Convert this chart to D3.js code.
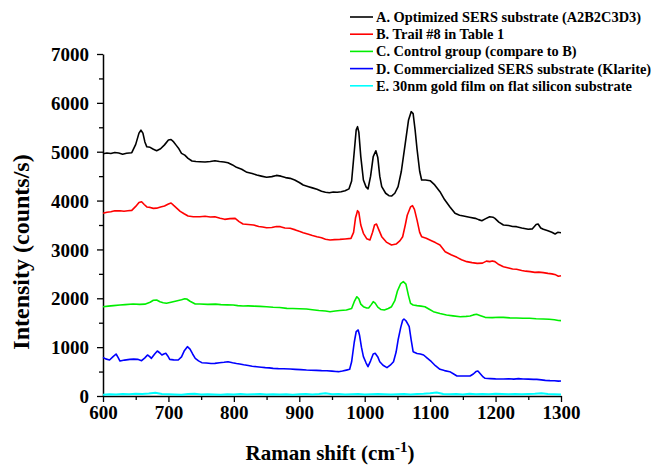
<!DOCTYPE html>
<html><head><meta charset="utf-8">
<script src="https://cdn.jsdelivr.net/npm/d3@7"></script>
<style>
html,body{margin:0;padding:0;background:#fff;}
svg{display:block;}
svg text{font-family:"Liberation Serif","Times New Roman",serif !important;font-weight:bold;fill:#000;}
</style></head>
<body><svg id="c" width="654" height="466"></svg>
<script>
const legendLabels = [
  "A. Optimized SERS substrate (A2B2C3D3)",
  "B. Trail #8 in Table 1",
  "C. Control group (compare to B)",
  "D. Commercialized SERS substrate (Klarite)",
  "E. 30nm gold film on flat silicon substrate"
];
const seriesColors = ["#000000", "#ff0000", "#00ee00", "#0000ff", "#00ffff"];
const xTicks = [600, 700, 800, 900, 1000, 1100, 1200, 1300];
const yTicks = [0, 1000, 2000, 3000, 4000, 5000, 6000, 7000];

const seriesA = [[600,4960],[606,4975],[612,4965],[618,4985],[624,4975],[630,4950],[636,4970],[644,4980],[650,5150],[655,5380],[658,5440],[661,5380],[664,5200],[667,5100],[672,5090],[677,5050],[682,5020],[688,5060],[694,5140],[700,5240],[704,5250],[708,5200],[712,5130],[716,5060],[720,4967],[725,4930],[730,4865],[736,4810],[742,4800],[748,4795],[756,4790],[764,4800],[771,4815],[778,4800],[785,4790],[791,4775],[798,4730],[804,4680],[812,4640],[820,4578],[828,4555],[835,4523],[842,4500],[850,4476],[858,4490],[865,4515],[872,4500],[879,4470],[886,4455],[893,4420],[900,4370],[906,4318],[913,4290],[920,4260],[927,4230],[934,4190],[940,4170],[946,4160],[952,4175],[958,4170],[964,4180],[970,4200],[976,4240],[980,4400],[984,5000],[987,5450],[989,5512],[991,5400],[994,4900],[998,4421],[1002,4280],[1005,4237],[1009,4500],[1013,4900],[1017,5020],[1020,4880],[1023,4500],[1026,4285],[1032,4150],[1037,4100],[1041,4093],[1046,4150],[1051,4285],[1056,4600],[1062,5170],[1067,5650],[1071,5820],[1074,5780],[1077,5450],[1080,5050],[1084,4600],[1087,4421],[1093,4420],[1100,4407],[1107,4320],[1115,4182],[1122,4020],[1130,3875],[1138,3739],[1145,3700],[1151,3684],[1160,3660],[1169,3636],[1174,3610],[1179,3588],[1185,3630],[1191,3670],[1196,3660],[1199,3636],[1205,3560],[1212,3500],[1220,3490],[1226,3470],[1232,3466],[1240,3440],[1250,3412],[1256,3420],[1262,3510],[1265,3520],[1269,3440],[1273,3412],[1280,3380],[1286,3350],[1291,3316],[1295,3350],[1300,3343]];

const seriesB = [[600,3739],[606,3760],[612,3770],[618,3790],[626,3793],[632,3780],[638,3790],[644,3800],[650,3880],[655,3960],[659,3977],[663,3920],[667,3870],[672,3860],[677,3840],[682,3845],[688,3870],[694,3890],[700,3930],[704,3950],[708,3900],[713,3841],[718,3780],[724,3730],[730,3684],[738,3670],[748,3670],[756,3680],[764,3665],[771,3670],[779,3640],[786,3616],[794,3630],[802,3636],[808,3570],[814,3520],[822,3510],[830,3500],[838,3470],[844,3460],[850,3445],[858,3450],[865,3470],[871,3466],[878,3440],[886,3432],[894,3400],[900,3370],[906,3343],[914,3310],[920,3285],[927,3261],[934,3240],[940,3210],[947,3193],[954,3200],[962,3206],[970,3215],[979,3227],[983,3350],[986,3650],[989,3793],[991,3760],[994,3500],[998,3330],[1003,3220],[1008,3193],[1012,3350],[1015,3500],[1018,3520],[1021,3420],[1026,3261],[1033,3150],[1041,3090],[1048,3110],[1054,3180],[1058,3260],[1062,3500],[1065,3700],[1070,3870],[1073,3895],[1076,3820],[1080,3600],[1084,3350],[1087,3261],[1094,3230],[1102,3179],[1108,3140],[1115,3090],[1123,2954],[1132,2890],[1141,2838],[1148,2790],[1156,2750],[1164,2730],[1172,2715],[1180,2720],[1186,2760],[1191,2750],[1195,2765],[1199,2750],[1205,2690],[1212,2647],[1220,2620],[1226,2600],[1232,2593],[1240,2570],[1246,2555],[1253,2545],[1260,2530],[1266,2535],[1273,2525],[1280,2510],[1286,2500],[1292,2480],[1296,2450],[1300,2460]];

const seriesC = [[600,1828],[608,1840],[616,1850],[626,1862],[634,1870],[646,1883],[656,1875],[664,1880],[672,1920],[677,1960],[682,1965],[687,1930],[692,1910],[697,1897],[704,1920],[712,1945],[720,1970],[725,1990],[728,1985],[733,1940],[741,1883],[748,1883],[760,1875],[772,1880],[780,1870],[790,1865],[799,1862],[806,1850],[814,1842],[822,1845],[830,1840],[840,1835],[850,1828],[860,1815],[870,1810],[881,1794],[890,1790],[900,1785],[911,1780],[920,1765],[930,1750],[940,1740],[947,1726],[955,1740],[962,1750],[972,1760],[980,1790],[984,1930],[988,2032],[991,1990],[994,1880],[998,1828],[1003,1800],[1006,1800],[1010,1870],[1013,1930],[1016,1900],[1020,1820],[1025,1770],[1030,1760],[1036,1790],[1041,1828],[1046,1950],[1050,2150],[1055,2300],[1059,2340],[1063,2290],[1067,2050],[1070,1897],[1074,1862],[1080,1850],[1086,1840],[1092,1828],[1098,1780],[1105,1726],[1115,1690],[1125,1658],[1135,1640],[1146,1623],[1155,1630],[1161,1637],[1166,1660],[1171,1672],[1176,1650],[1184,1610],[1195,1605],[1205,1612],[1212,1610],[1222,1600],[1232,1595],[1242,1590],[1252,1590],[1262,1580],[1273,1576],[1282,1570],[1290,1560],[1296,1545],[1300,1542]];

const seriesD = [[600,791],[604,760],[610,737],[615,800],[620,860],[623,790],[626,716],[633,735],[641,750],[647,755],[653,750],[659,723],[664,780],[668,839],[671,810],[674,771],[679,860],[683,921],[687,880],[690,839],[693,860],[696,873],[699,820],[702,750],[708,740],[715,737],[720,800],[724,920],[729,1010],[733,960],[737,860],[741,771],[746,720],[751,682],[758,675],[765,665],[771,668],[778,680],[785,690],[791,702],[798,680],[804,665],[809,655],[815,640],[822,625],[828,610],[835,600],[842,590],[848,580],[854,575],[860,566],[868,560],[876,558],[886,552],[894,545],[902,540],[911,532],[918,528],[926,525],[934,520],[942,518],[950,510],[956,500],[960,498],[966,510],[972,530],[977,546],[980,700],[984,1100],[987,1320],[990,1351],[992,1250],[995,1000],[998,805],[1002,680],[1005,600],[1009,720],[1013,860],[1016,873],[1020,800],[1023,702],[1028,630],[1034,580],[1039,630],[1044,702],[1048,900],[1051,1146],[1055,1400],[1058,1550],[1060,1576],[1063,1540],[1066,1470],[1068,1419],[1071,1150],[1074,907],[1080,870],[1085,860],[1090,839],[1096,770],[1102,702],[1108,620],[1115,546],[1122,520],[1130,498],[1136,450],[1141,409],[1150,410],[1161,409],[1166,450],[1170,500],[1173,512],[1177,450],[1181,390],[1184,362],[1192,355],[1200,350],[1212,348],[1220,352],[1228,345],[1235,355],[1242,348],[1250,345],[1258,340],[1263,341],[1270,330],[1276,320],[1283,314],[1290,312],[1296,305],[1300,307]];

const seriesE = [[600,25],[610,35],[620,30],[630,40],[640,35],[650,45],[660,40],[670,50],[680,65],[690,40],[700,35],[710,30],[720,25],[730,40],[740,45],[750,30],[760,35],[770,30],[780,25],[790,35],[800,30],[810,40],[820,30],[830,35],[840,40],[850,30],[860,35],[870,30],[880,35],[890,25],[900,35],[910,40],[920,30],[930,40],[940,55],[950,35],[960,40],[970,30],[980,35],[990,40],[1000,30],[1010,35],[1020,40],[1030,35],[1040,30],[1050,35],[1060,40],[1070,30],[1080,40],[1090,45],[1100,55],[1110,70],[1120,40],[1130,35],[1140,40],[1150,30],[1160,45],[1170,35],[1180,40],[1190,35],[1200,45],[1210,40],[1220,35],[1230,40],[1240,35],[1250,40],[1260,45],[1270,55],[1280,40],[1290,35],[1300,30]];

const allSeries = [seriesA, seriesB, seriesC, seriesD, seriesE];

const svg = d3.select("#c");
const mLeft = 103, mRight = 561, mTop = 54, mBottom = 396;
const x = d3.scaleLinear().domain([600, 1300]).range([mLeft, mRight]);
const y = d3.scaleLinear().domain([0, 7000]).range([mBottom, mTop]);
const fmt = d3.format("d");

// minor ticks
const gx = svg.append("g").attr("transform", `translate(0,${mBottom})`);
gx.call(d3.axisBottom(x).tickValues(d3.range(650, 1300, 100)).tickSize(4).tickFormat(""));
gx.selectAll("path.domain").remove();
const gx2 = svg.append("g").attr("transform", `translate(0,${mBottom})`)
  .call(d3.axisBottom(x).tickValues(xTicks).tickFormat(fmt).tickSize(6).tickPadding(4).tickSizeOuter(0));
const gy = svg.append("g").attr("transform", `translate(${mLeft},0)`);
gy.call(d3.axisLeft(y).tickValues(d3.range(500, 7000, 1000)).tickSize(4).tickFormat(""));
gy.selectAll("path.domain").remove();
const gy2 = svg.append("g").attr("transform", `translate(${mLeft},0)`)
  .call(d3.axisLeft(y).tickValues(yTicks).tickFormat(fmt).tickSize(6).tickPadding(8).tickSizeOuter(0));

svg.selectAll(".tick line").attr("stroke", "#000").attr("stroke-width", 1.3);
svg.selectAll("path.domain").attr("stroke", "#000").attr("stroke-width", 1.5);
gx2.selectAll("text").attr("font-size", 19);
gy2.selectAll("text").attr("font-size", 19).attr("dy", "0.35em");

const line = d3.line().x(d => x(d[0])).y(d => y(d[1]));
[4, 3, 2, 1, 0].forEach(i => {
  svg.append("path").datum(allSeries[i])
    .attr("d", line)
    .attr("fill", "none")
    .attr("stroke", seriesColors[i])
    .attr("stroke-width", i === 4 ? 2 : 1.6)
    .attr("stroke-linejoin", "round");
});

// axis titles
svg.append("text")
  .attr("transform", `translate(29,252) rotate(-90)`)
  .attr("text-anchor", "middle")
  .attr("font-size", 24)
  .text("Intensity (counts/s)");
const xt = svg.append("text")
  .attr("x", 330).attr("y", 460)
  .attr("text-anchor", "middle")
  .attr("font-size", 21);
xt.append("tspan").text("Raman shift (cm");
xt.append("tspan").attr("dy", -8).attr("font-size", 15).text("-1");
xt.append("tspan").attr("dy", 8).text(")");

// legend
const lg = svg.append("g");
legendLabels.forEach((lab, i) => {
  const yy = 17 + i * 17.2;
  lg.append("line").attr("x1", 350).attr("x2", 373).attr("y1", yy).attr("y2", yy)
    .attr("stroke", seriesColors[i]).attr("stroke-width", 1.6);
  lg.append("text").attr("x", 376).attr("y", yy + 5)
    .attr("font-size", 14.4).text(lab);
});
</script></body></html>
